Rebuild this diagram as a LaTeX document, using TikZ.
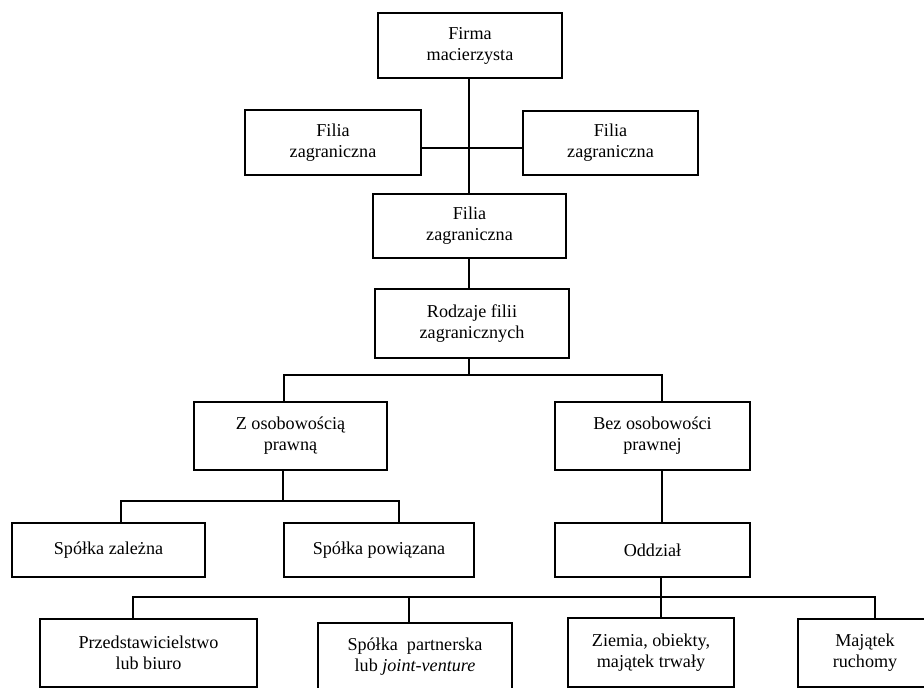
\documentclass[tikz,border=0pt]{standalone}
\usepackage{fontspec}
\setmainfont{Liberation Serif}
\begin{document}
\begin{tikzpicture}[x=0.75pt,y=-0.75pt,line width=1.2pt,
        box/.style 2 args={draw,inner sep=0pt,align=center,minimum width=#1,minimum height=#2,
            font=\fontsize{13.6}{15.8}\selectfont}]
        \clip (0,0) rectangle (924,688);
        \node[box={138pt}{48.75pt}] (firma) at (470,45.5) {Firma\\macierzysta};
        \node[box={132pt}{48.75pt}] (filiaL) at (333,142.5) {Filia\\zagraniczna};
        \node[box={131.25pt}{48pt}] (filiaR) at (610.5,143) {Filia\\zagraniczna};
        \node[box={144.75pt}{48pt}] (filiaM) at (469.5,226) {Filia\\zagraniczna};
        \node[box={145.5pt}{51.75pt}] (rodzaje) at (472,323.5) {Rodzaje filii\\zagranicznych};
        \node[box={144.75pt}{51pt}] (zos) at (290.5,436) {Z osobowością\\prawną};
        \node[box={146.25pt}{51pt}] (bez) at (652.5,436) {Bez osobowości\\prawnej};
        \node[box={144.75pt}{40.5pt}] (zal) at (108.5,550) {Spółka zależna};
        \node[box={142.5pt}{40.5pt}] (pow) at (379,550) {Spółka powiązana};
        \node[box={146.25pt}{40.5pt}] (oddzial) at (652.5,550) {Oddział};
        \node[box={162.75pt}{51pt}] (przed) at (148.5,653) {Przedstawicielstwo\\lub biuro};
        \node[box={145.5pt}{51pt}] (partner) at (415,657) {Spółka\enspace partnerska\\lub \textit{joint-venture}};
        \node[box={124.5pt}{51.75pt}] (ziemia) at (651,652.5) {Ziemia, obiekty,\\majątek trwały};
        \node[box={100.5pt}{51pt}] (majatek) at (865,653) {Majątek\\ruchomy};
        \coordinate (r1) at (469,375);
        \coordinate (z1) at (283,501);
        \coordinate (o1) at (661,597);
        \draw (firma.south -| 469,0) -- (filiaM.north -| 469,0);
        \draw (filiaL.east |- 0,148) -- (filiaR.west |- 0,148);
        \draw (filiaM.south -| r1) -- (rodzaje.north -| r1);
        \draw (rodzaje.south -| r1) -- (r1);
        \draw (zos.north -| 284,0) |- (r1) -| (bez.north -| 662,0);
        \draw (zos.south -| z1) -- (z1);
        \draw (zal.north -| 121,0) |- (z1) -| (pow.north -| 399,0);
        \draw (bez.south -| 662,0) -- (oddzial.north -| 662,0);
        \draw (oddzial.south -| o1) -- (o1);
        \draw (przed.north -| 133,0) |- (o1) -| (majatek.north -| 875,0);
        \draw (partner.north -| 409,0) -- (409,597);
        \draw (ziemia.north -| o1) -- (o1);
\end{tikzpicture}
\end{document}
